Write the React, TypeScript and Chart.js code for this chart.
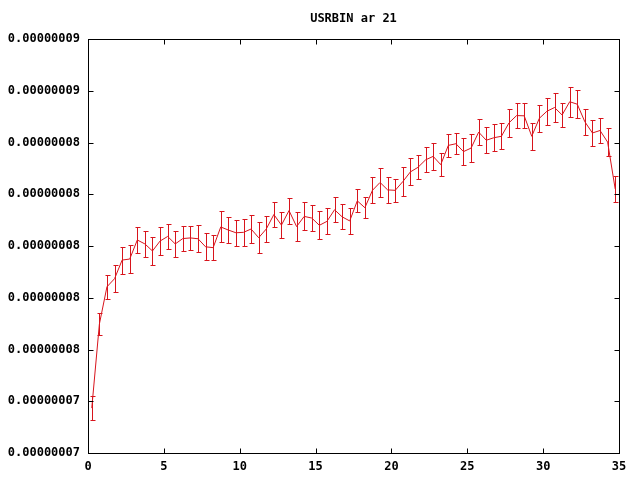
import React, { useEffect, useRef } from "react";
import { Chart, registerables } from "chart.js";

Chart.register(...registerables);

const TITLE = "USRBIN ar 21";

// x positions (bin centres)
const X_VALUES = [
  0.25, 0.75, 1.25, 1.75, 2.25, 2.75, 3.25, 3.75, 4.25, 4.75,
  5.25, 5.75, 6.25, 6.75, 7.25, 7.75, 8.25, 8.75, 9.25, 9.75,
  10.25, 10.75, 11.25, 11.75, 12.25, 12.75, 13.25, 13.75, 14.25, 14.75,
  15.25, 15.75, 16.25, 16.75, 17.25, 17.75, 18.25, 18.75, 19.25, 19.75,
  20.25, 20.75, 21.25, 21.75, 22.25, 22.75, 23.25, 23.75, 24.25, 24.75,
  25.25, 25.75, 26.25, 26.75, 27.25, 27.75, 28.25, 28.75, 29.25, 29.75,
  30.25, 30.75, 31.25, 31.75, 32.25, 32.75, 33.25, 33.75, 34.25, 34.75,
];

// values in units of 1e-8
const Y_VALUES_E8 = [
  7.217, 7.623, 7.803, 7.842, 7.932, 7.937, 8.029, 8.010, 7.976, 8.024,
  8.046, 8.010, 8.036, 8.039, 8.035, 7.996, 7.992, 8.092, 8.077, 8.064,
  8.066, 8.082, 8.040, 8.082, 8.152, 8.101, 8.171, 8.094, 8.143, 8.135,
  8.100, 8.119, 8.175, 8.141, 8.121, 8.218, 8.185, 8.269, 8.307, 8.271,
  8.269, 8.311, 8.358, 8.380, 8.416, 8.433, 8.393, 8.486, 8.494, 8.456,
  8.473, 8.550, 8.511, 8.523, 8.530, 8.595, 8.630, 8.629, 8.530, 8.617,
  8.651, 8.669, 8.633, 8.697, 8.685, 8.600, 8.546, 8.558, 8.502, 8.275,
];

// absolute errors in units of 1e-8
const Y_ERRORS_E8 = [
  0.059, 0.055, 0.059, 0.064, 0.065, 0.069, 0.062, 0.064, 0.066, 0.069,
  0.062, 0.062, 0.059, 0.059, 0.066, 0.065, 0.061, 0.075, 0.061, 0.064,
  0.064, 0.069, 0.075, 0.063, 0.062, 0.064, 0.063, 0.069, 0.068, 0.061,
  0.068, 0.063, 0.060, 0.060, 0.063, 0.056, 0.051, 0.063, 0.069, 0.061,
  0.057, 0.069, 0.065, 0.058, 0.060, 0.066, 0.055, 0.054, 0.051, 0.064,
  0.066, 0.062, 0.063, 0.064, 0.063, 0.067, 0.062, 0.060, 0.066, 0.064,
  0.066, 0.069, 0.057, 0.072, 0.069, 0.064, 0.063, 0.062, 0.067, 0.064,
];

const X_TICKS = [0, 5, 10, 15, 20, 25, 30, 35];
const X_TICK_LABELS = ["0", "5", "10", "15", "20", "25", "30", "35"];
const Y_TICKS_E8 = [7.0, 7.25, 7.5, 7.75, 8.0, 8.25, 8.5, 8.75, 9.0];
const Y_TICK_LABELS = [
  "0.00000007", "0.00000007", "0.00000008", "0.00000008", "0.00000008",
  "0.00000008", "0.00000008", "0.00000009", "0.00000009",
];

const RED = "#d8141c";
const FONT_FAMILY = "'DejaVu Sans Mono', 'Liberation Mono', monospace";

const framePlugin = {
  id: "gnuplotFrame",
  afterDraw(chart: any) {
    const { ctx, chartArea, scales } = chart;
    const L = Math.round(chartArea.left) + 0.5;
    const R = Math.round(chartArea.right) + 0.5;
    const T = Math.round(chartArea.top) + 0.5;
    const B = Math.round(chartArea.bottom) + 0.5;
    ctx.save();
    ctx.strokeStyle = "#000";
    ctx.lineWidth = 1;
    ctx.strokeRect(L, T, R - L, B - T);
    ctx.beginPath();
    X_TICKS.forEach((v) => {
      const px = Math.round(scales.x.getPixelForValue(v)) + 0.5;
      ctx.moveTo(px, B);
      ctx.lineTo(px, B - 5);
      ctx.moveTo(px, T);
      ctx.lineTo(px, T + 5);
    });
    Y_TICKS_E8.forEach((v) => {
      const py = Math.round(scales.y.getPixelForValue(v)) + 0.5;
      ctx.moveTo(L, py);
      ctx.lineTo(L + 5, py);
      ctx.moveTo(R, py);
      ctx.lineTo(R - 5, py);
    });
    ctx.stroke();
    // title
    ctx.fillStyle = "#000";
    ctx.font = `bold 12px ${FONT_FAMILY}`;
    ctx.textAlign = "center";
    ctx.textBaseline = "middle";
    ctx.fillText(TITLE, (chartArea.left + chartArea.right) / 2, 19);
    ctx.restore();
  },
};

const errorBarPlugin = {
  id: "errorBars",
  afterDatasetsDraw(chart: any) {
    const { ctx, scales } = chart;
    ctx.save();
    ctx.strokeStyle = RED;
    ctx.lineWidth = 1;
    ctx.beginPath();
    X_VALUES.forEach((xv, i) => {
      const px = Math.round(scales.x.getPixelForValue(xv)) + 0.5;
      const y1 = Math.round(scales.y.getPixelForValue(Y_VALUES_E8[i] - Y_ERRORS_E8[i])) + 0.5;
      const y2 = Math.round(scales.y.getPixelForValue(Y_VALUES_E8[i] + Y_ERRORS_E8[i])) + 0.5;
      ctx.moveTo(px, y1);
      ctx.lineTo(px, y2);
      ctx.moveTo(px - 2, y1);
      ctx.lineTo(px + 3, y1);
      ctx.moveTo(px - 2, y2);
      ctx.lineTo(px + 3, y2);
    });
    ctx.stroke();
    ctx.restore();
  },
};

export default function App() {
  const canvasRef = useRef<HTMLCanvasElement | null>(null);

  useEffect(() => {
    if (!canvasRef.current) return;
    const data = X_VALUES.map((x, i) => ({ x, y: Y_VALUES_E8[i] }));
    const chart = new Chart(canvasRef.current, {
      type: "line",
      data: {
        datasets: [
          {
            label: TITLE,
            data,
            borderColor: RED,
            backgroundColor: RED,
            borderWidth: 1,
            pointRadius: 0,
            tension: 0,
            fill: false,
          },
        ],
      },
      options: {
        animation: false,
        responsive: false,
        maintainAspectRatio: false,
        layout: { padding: { left: 0, right: 21, top: 39, bottom: 0 } },
        plugins: {
          legend: { display: false },
          title: { display: false },
          tooltip: { enabled: false },
        },
        scales: {
          x: {
            type: "linear",
            min: 0,
            max: 35,
            grid: { display: false, drawTicks: false },
            border: { display: false },
            afterBuildTicks: (scale: any) => {
              scale.ticks = X_TICKS.map((v) => ({ value: v }));
            },
            afterFit: (scale: any) => {
              scale.height = 27;
            },
            ticks: {
              autoSkip: false,
              maxRotation: 0,
              padding: 7,
              color: "#000",
              font: { family: FONT_FAMILY, size: 12, weight: "bold" },
              callback: (v: any) => {
                const idx = X_TICKS.indexOf(Number(v));
                return idx >= 0 ? X_TICK_LABELS[idx] : "";
              },
            },
          },
          y: {
            type: "linear",
            min: 7,
            max: 9,
            grid: { display: false, drawTicks: false },
            border: { display: false },
            afterBuildTicks: (scale: any) => {
              scale.ticks = Y_TICKS_E8.map((v) => ({ value: v }));
            },
            afterFit: (scale: any) => {
              scale.width = 88;
            },
            ticks: {
              autoSkip: false,
              padding: 8,
              color: "#000",
              font: { family: FONT_FAMILY, size: 12, weight: "bold" },
              callback: (v: any) => {
                const idx = Y_TICKS_E8.findIndex((t) => Math.abs(t - Number(v)) < 1e-6);
                return idx >= 0 ? Y_TICK_LABELS[idx] : "";
              },
            },
          },
        },
      },
      plugins: [errorBarPlugin, framePlugin],
    });
    return () => chart.destroy();
  }, []);

  return (
    <div
      style={{
        position: "fixed",
        left: 0,
        top: 0,
        width: 640,
        height: 480,
        background: "#fff",
      }}
    >
      <canvas ref={canvasRef} width={640} height={480} style={{ display: "block" }} />
    </div>
  );
}
